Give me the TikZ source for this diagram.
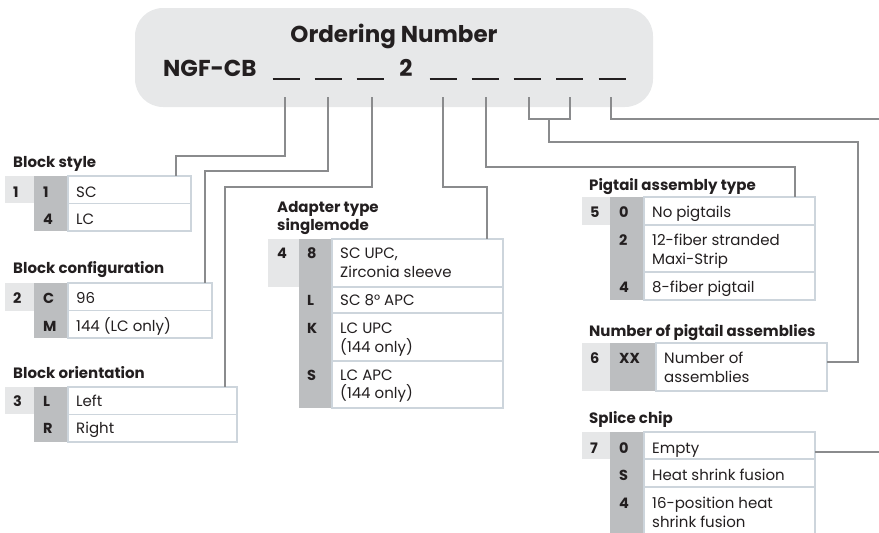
\documentclass[tikz,border=0pt]{standalone}
\usepackage{fontspec}
\setmainfont{Poppins}
\definecolor{lgray}{HTML}{E6E7E8}
\definecolor{dgray}{HTML}{BCBEC0}
\definecolor{hdrcol}{HTML}{E7E8E9}
\definecolor{bordcol}{HTML}{CDD5DC}
\definecolor{conncol}{HTML}{8A8B8D}
\definecolor{txtcol}{HTML}{231F20}
\begin{document}
\begin{tikzpicture}[x=1pt,y=-1pt,
  conn/.style={draw=conncol, line width=1.4pt},
  uline/.style={draw=txtcol, line width=2.6pt},
  box/.style={anchor=north west, inner sep=0pt, outer sep=0pt},
  lcell/.style={box, fill=lgray},
  dcell/.style={box, fill=dgray},
  wcell/.style={box, fill=white, draw=bordcol, line width=1.1pt},
  ttl/.style={anchor=base west, inner sep=0pt, text=txtcol, font=\bfseries\fontsize{15}{18}\selectfont},
  num/.style={anchor=base west, inner sep=0pt, text=txtcol, font=\bfseries\fontsize{14.5}{18}\selectfont},
  body/.style={anchor=base west, inner sep=0pt, text=txtcol, font=\fontsize{15}{18}\selectfont}]
\useasboundingbox (0,0) rectangle (879,533);
\begin{scope}
\clip (0,0) rectangle (879,533);
% header
\node[box, fill=hdrcol, rounded corners=28pt, minimum width=518pt, minimum height=99pt] (hdr) at (135,8) {};
\node[anchor=base, inner sep=0pt, text=txtcol, font=\bfseries\fontsize{23}{26}\selectfont] (title) at (394,42) {Ordering Number};
\node[anchor=base west, inner sep=0pt, text=txtcol, font=\bfseries\fontsize{23}{26}\selectfont] (ngf) at (163,76) {NGF-CB};
\node[anchor=base, inner sep=0pt, text=txtcol, font=\bfseries\fontsize{23}{26}\selectfont] (two) at (406,76) {2};
\foreach \c in {286,328,370,443,485,527,569.5,612} \draw[uline] (\c-13.5,79) -- (\c+13.5,79);
\coordinate (u1) at (285,97);
\coordinate (u2) at (328,97);
\coordinate (u3) at (372,97);
\coordinate (u4) at (443,97);
\coordinate (u5) at (486,97);
\coordinate (u6) at (529,97);
\coordinate (u7) at (570,97);
\coordinate (u8) at (611,97);
\coordinate (edge1) at (879,119);
\coordinate (edge2) at (879,452);

% Block style
\node[ttl] (bsT) at (13,167) {Block style};
\node[lcell, minimum width=29pt, minimum height=27pt] (bsA) at (5,176) {};
\node[dcell, minimum width=34pt, minimum height=55pt] (bsB) at (34,176) {};
\node[wcell, minimum width=123pt, minimum height=27.5pt] (bs1) at (68,176) {};
\node[wcell, minimum width=123pt, minimum height=27.5pt] (bs2) at (68,203.5) {};
\node[num] (bsn) at (13,197) {1};
\node[num] (bsk1) at (43,197) {1};
\node[num] (bsk2) at (43,224) {4};
\node[body] (bst1) at (76,197) {SC};
\node[body] (bst2) at (76,224) {LC};
\coordinate (bsIn) at (176,176);

% Block configuration
\node[ttl] (bcT) at (13,273) {Block configuration};
\node[lcell, minimum width=29pt, minimum height=28pt] (bcA) at (5,283) {};
\node[dcell, minimum width=34pt, minimum height=55pt] (bcB) at (34,283) {};
\node[wcell, minimum width=144pt, minimum height=27.5pt] (bc1) at (68,283) {};
\node[wcell, minimum width=144pt, minimum height=27.5pt] (bc2) at (68,310.5) {};
\node[num] (bcn) at (13,303) {2};
\node[num] (bck1) at (43,303) {C};
\node[num] (bck2) at (43,331) {M};
\node[body] (bct1) at (76,303) {96};
\node[body] (bct2) at (76,331) {144 (LC only)};
\coordinate (bcIn) at (205,283);

% Block orientation
\node[ttl] (boT) at (13,378) {Block orientation};
\node[lcell, minimum width=29pt, minimum height=27pt] (boA) at (5,387) {};
\node[dcell, minimum width=34pt, minimum height=55pt] (boB) at (34,387) {};
\node[wcell, minimum width=169pt, minimum height=27.5pt] (bo1) at (68,387) {};
\node[wcell, minimum width=169pt, minimum height=27.5pt] (bo2) at (68,414.5) {};
\node[num] (bon) at (13,406) {3};
\node[num] (bok1) at (43,406) {L};
\node[num] (bok2) at (43,433) {R};
\node[body] (bot1) at (76,406) {Left};
\node[body] (bot2) at (76,433) {Right};
\coordinate (boIn) at (225,387);

% Adapter type
\node[ttl] (atT1) at (277,212) {Adapter type};
\node[ttl] (atT2) at (277,230) {singlemode};
\node[lcell, minimum width=31pt, minimum height=48pt] (atA) at (268,239) {};
\node[dcell, minimum width=33pt, minimum height=169pt] (atB) at (299,239) {};
\node[wcell, minimum width=171pt, minimum height=48pt] (at1) at (332,239) {};
\node[wcell, minimum width=171pt, minimum height=26pt] (at2) at (332,287) {};
\node[wcell, minimum width=171pt, minimum height=48pt] (at3) at (332,313) {};
\node[wcell, minimum width=171pt, minimum height=47pt] (at4) at (332,361) {};
\node[num] (atn) at (277,258) {4};
\node[num] (atk1) at (307,258) {8};
\node[num] (atk2) at (307,305) {L};
\node[num] (atk3) at (307,333) {K};
\node[num] (atk4) at (307,380) {S};
\node[body] (att1a) at (340,258) {SC UPC,};
\node[body] (att1b) at (340,277) {Zirconia sleeve};
\node[body] (att2) at (340,305) {SC 8° APC};
\node[body] (att3a) at (340,333) {LC UPC};
\node[body] (att3b) at (340,352) {(144 only)};
\node[body] (att4a) at (340,380) {LC APC};
\node[body] (att4b) at (340,398) {(144 only)};
\coordinate (atIn) at (487,239);

% Pigtail assembly type
\node[ttl] (ptT) at (589,190) {Pigtail assembly type};
\node[lcell, minimum width=28pt, minimum height=28pt] (ptA) at (582,197) {};
\node[dcell, minimum width=34pt, minimum height=103pt] (ptB) at (610,197) {};
\node[wcell, minimum width=171pt, minimum height=28pt] (pt1) at (644,197) {};
\node[wcell, minimum width=171pt, minimum height=47pt] (pt2) at (644,225) {};
\node[wcell, minimum width=171pt, minimum height=28pt] (pt3) at (644,272) {};
\node[num] (ptn) at (590,217) {5};
\node[num] (ptk1) at (619,217) {0};
\node[num] (ptk2) at (619,245) {2};
\node[num] (ptk3) at (619,292) {4};
\node[body] (ptt1) at (652,217) {No pigtails};
\node[body] (ptt2a) at (652,245) {12-fiber stranded};
\node[body] (ptt2b) at (652,264) {Maxi-Strip};
\node[body] (ptt3) at (652,292) {8-fiber pigtail};
\coordinate (ptIn) at (795,197);

% Number of pigtail assemblies
\node[ttl] (npT) at (589,336) {Number of pigtail assemblies};
\node[lcell, minimum width=28pt, minimum height=48pt] (npA) at (582,343) {};
\node[dcell, minimum width=46pt, minimum height=48pt] (npB) at (610,343) {};
\node[wcell, minimum width=171pt, minimum height=48pt] (np1) at (656,343) {};
\node[num] (npn) at (590,363) {6};
\node[num] (npk) at (619,363) {XX};
\node[body] (npt1a) at (664,363) {Number of};
\node[body] (npt1b) at (664,382) {assemblies};
\coordinate (npIn) at (827,362);

% Splice chip
\node[ttl] (scT) at (589,423) {Splice chip};
\node[lcell, minimum width=28pt, minimum height=27pt] (scA) at (582,432) {};
\node[dcell, minimum width=34pt, minimum height=110pt] (scB) at (610,432) {};
\node[wcell, minimum width=171pt, minimum height=27pt] (sc1) at (644,432) {};
\node[wcell, minimum width=171pt, minimum height=28pt] (sc2) at (644,459) {};
\node[wcell, minimum width=171pt, minimum height=60pt] (sc3) at (644,487) {};
\node[num] (scn) at (590,453) {7};
\node[num] (sck1) at (619,453) {0};
\node[num] (sck2) at (619,480) {S};
\node[num] (sck3) at (619,508) {4};
\node[body] (sct1) at (652,453) {Empty};
\node[body] (sct2) at (652,480) {Heat shrink fusion};
\node[body] (sct3a) at (652,508) {16-position heat};
\node[body] (sct3b) at (652,527) {shrink fusion};
\coordinate (scOut) at (815,452);

% connectors
\draw[conn] (u1) -- (285,156) -| (bsIn);
\draw[conn] (u2) -- (328,171) -| (bcIn);
\draw[conn] (u3) -- (372,187) -| (boIn);
\draw[conn] (u4) -- (443,187) -| (atIn);
\draw[conn] (u5) -- (486,167) -| (ptIn);
\draw[conn] (u6) -- (529,119) -| (u7);
\draw[conn] (549,119) -- (549,142) -| (858,362) -- (npIn);
\draw[conn] (u8) |- (edge1);
\draw[conn] (scOut) -- (edge2);
\end{scope}
\end{tikzpicture}
\end{document}
